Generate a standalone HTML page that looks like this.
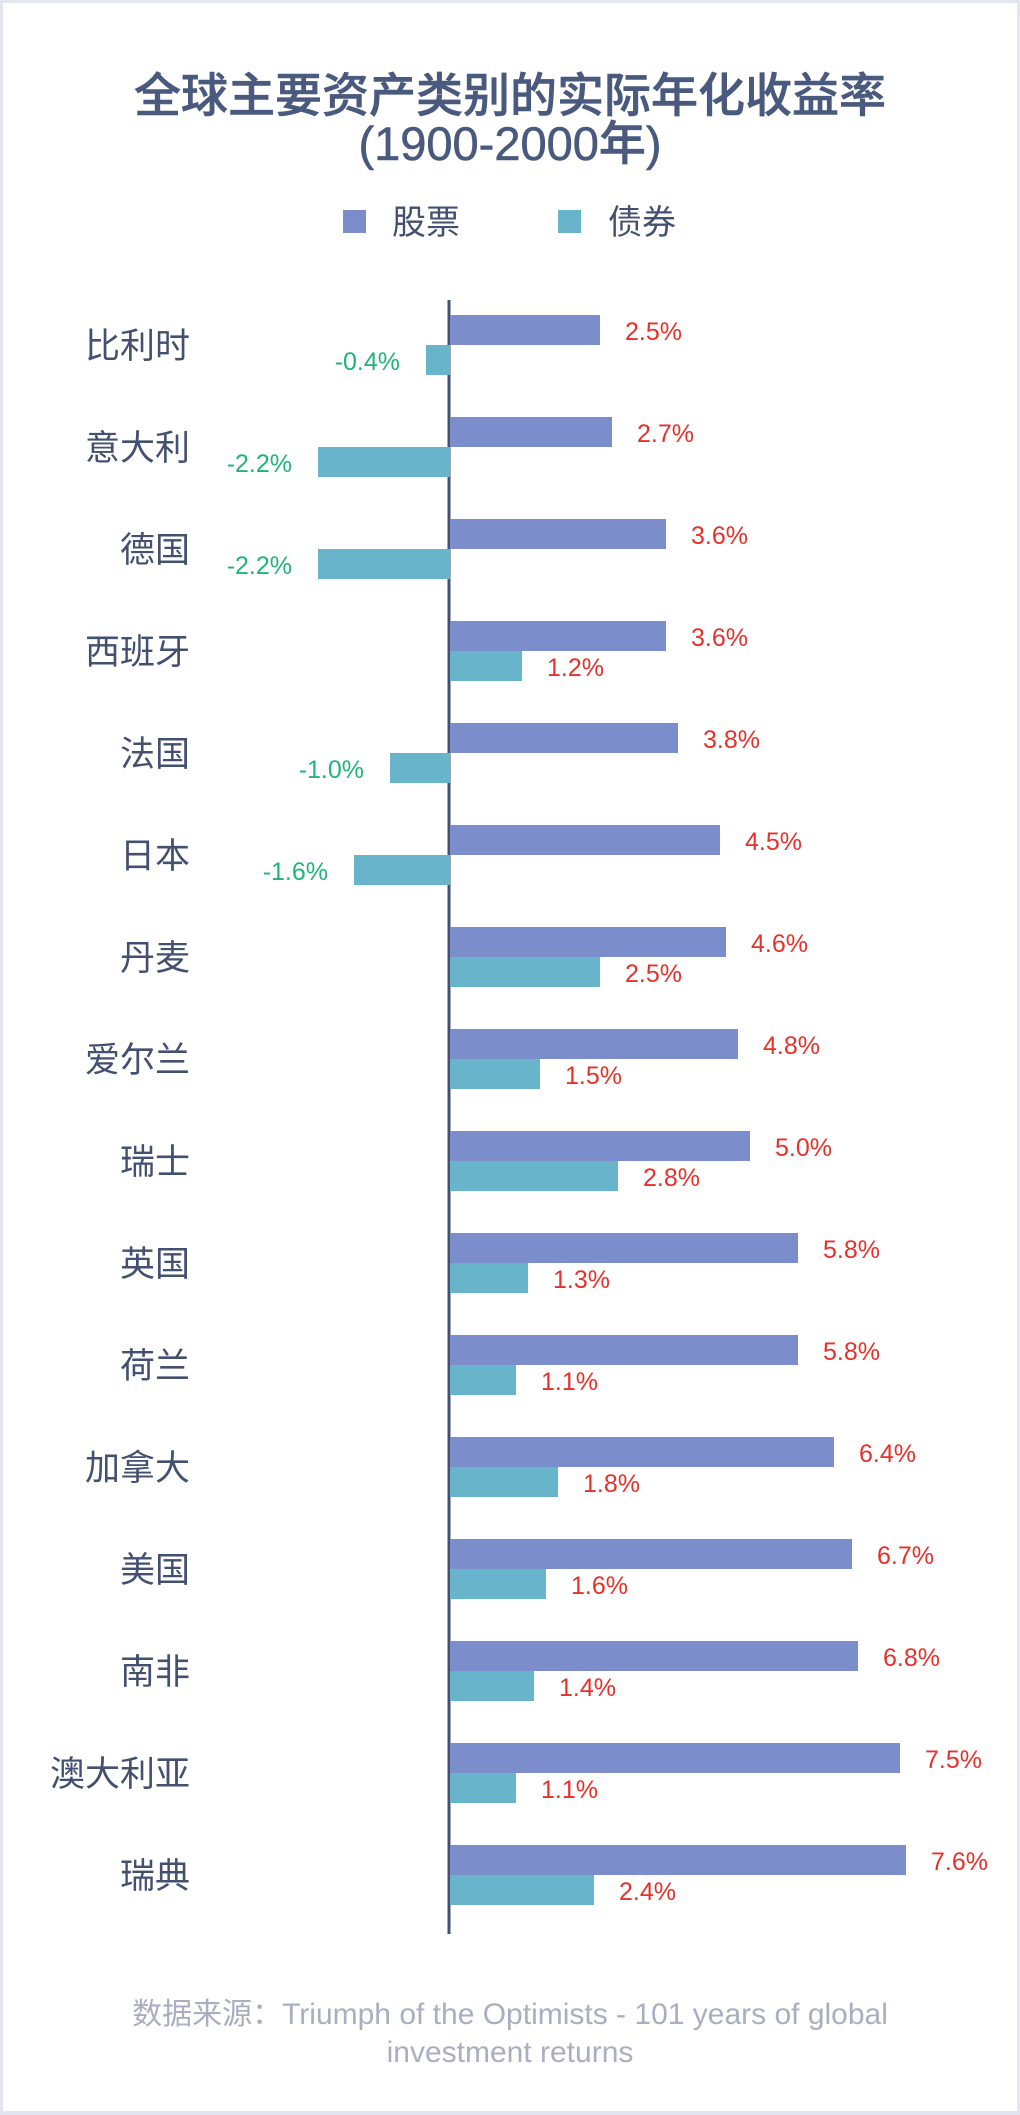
<!DOCTYPE html>
<html><head><meta charset="utf-8"><style>
html,body{margin:0;padding:0;background:#e3e6ee;}
svg{display:block;}
</style></head><body>
<svg width="1020" height="2115" xmlns="http://www.w3.org/2000/svg" font-family="'Liberation Sans','Noto Sans CJK SC',sans-serif">
<rect x="3" y="3" width="1014" height="2108" fill="#fff"/>
<text x="510" y="112" text-anchor="middle" font-size="47" font-weight="500" fill="#4a5a7e" stroke="#4a5a7e" stroke-width="0.6">全球主要资产类别的实际年化收益率</text>
<text x="510" y="160" text-anchor="middle" font-size="47" font-weight="500" fill="#4a5a7e" stroke="#4a5a7e" stroke-width="0.6">(1900-2000年)</text>
<rect x="343" y="210" width="23" height="23" fill="#7b8dcb"/>
<text x="392" y="234" font-size="34" fill="#44506f">股票</text>
<rect x="558" y="210" width="23" height="23" fill="#68b4cb"/>
<text x="608" y="234" font-size="34" fill="#44506f">债券</text>
<line x1="449" y1="300" x2="449" y2="1934" stroke="#44506f" stroke-width="3"/>
<text x="510" y="2024" text-anchor="middle" font-size="30" fill="#a9afc0">数据来源：Triumph of the Optimists - 101 years of global</text>
<text x="510" y="2062" text-anchor="middle" font-size="30" fill="#a9afc0">investment returns</text>
<g font-size="35" fill="#44506f" text-anchor="end">
<text x="190" y="358">比利时</text>
<text x="190" y="460">意大利</text>
<text x="190" y="562">德国</text>
<text x="190" y="664">西班牙</text>
<text x="190" y="766">法国</text>
<text x="190" y="868">日本</text>
<text x="190" y="970">丹麦</text>
<text x="190" y="1072">爱尔兰</text>
<text x="190" y="1174">瑞士</text>
<text x="190" y="1276">英国</text>
<text x="190" y="1378">荷兰</text>
<text x="190" y="1480">加拿大</text>
<text x="190" y="1582">美国</text>
<text x="190" y="1684">南非</text>
<text x="190" y="1786">澳大利亚</text>
<text x="190" y="1888">瑞典</text>
</g>
<g font-size="25">
<rect x="450" y="315" width="150" height="30" fill="#7b8dcb"/><text x="625" y="340" fill="#e8302a">2.5%</text>
<rect x="426" y="345" width="24" height="30" fill="#68b4cb"/><text x="400" y="370" fill="#1fb57a" text-anchor="end">-0.4%</text>
<rect x="450" y="417" width="162" height="30" fill="#7b8dcb"/><text x="637" y="442" fill="#e8302a">2.7%</text>
<rect x="318" y="447" width="132" height="30" fill="#68b4cb"/><text x="292" y="472" fill="#1fb57a" text-anchor="end">-2.2%</text>
<rect x="450" y="519" width="216" height="30" fill="#7b8dcb"/><text x="691" y="544" fill="#e8302a">3.6%</text>
<rect x="318" y="549" width="132" height="30" fill="#68b4cb"/><text x="292" y="574" fill="#1fb57a" text-anchor="end">-2.2%</text>
<rect x="450" y="621" width="216" height="30" fill="#7b8dcb"/><text x="691" y="646" fill="#e8302a">3.6%</text>
<rect x="450" y="651" width="72" height="30" fill="#68b4cb"/><text x="547" y="676" fill="#e8302a">1.2%</text>
<rect x="450" y="723" width="228" height="30" fill="#7b8dcb"/><text x="703" y="748" fill="#e8302a">3.8%</text>
<rect x="390" y="753" width="60" height="30" fill="#68b4cb"/><text x="364" y="778" fill="#1fb57a" text-anchor="end">-1.0%</text>
<rect x="450" y="825" width="270" height="30" fill="#7b8dcb"/><text x="745" y="850" fill="#e8302a">4.5%</text>
<rect x="354" y="855" width="96" height="30" fill="#68b4cb"/><text x="328" y="880" fill="#1fb57a" text-anchor="end">-1.6%</text>
<rect x="450" y="927" width="276" height="30" fill="#7b8dcb"/><text x="751" y="952" fill="#e8302a">4.6%</text>
<rect x="450" y="957" width="150" height="30" fill="#68b4cb"/><text x="625" y="982" fill="#e8302a">2.5%</text>
<rect x="450" y="1029" width="288" height="30" fill="#7b8dcb"/><text x="763" y="1054" fill="#e8302a">4.8%</text>
<rect x="450" y="1059" width="90" height="30" fill="#68b4cb"/><text x="565" y="1084" fill="#e8302a">1.5%</text>
<rect x="450" y="1131" width="300" height="30" fill="#7b8dcb"/><text x="775" y="1156" fill="#e8302a">5.0%</text>
<rect x="450" y="1161" width="168" height="30" fill="#68b4cb"/><text x="643" y="1186" fill="#e8302a">2.8%</text>
<rect x="450" y="1233" width="348" height="30" fill="#7b8dcb"/><text x="823" y="1258" fill="#e8302a">5.8%</text>
<rect x="450" y="1263" width="78" height="30" fill="#68b4cb"/><text x="553" y="1288" fill="#e8302a">1.3%</text>
<rect x="450" y="1335" width="348" height="30" fill="#7b8dcb"/><text x="823" y="1360" fill="#e8302a">5.8%</text>
<rect x="450" y="1365" width="66" height="30" fill="#68b4cb"/><text x="541" y="1390" fill="#e8302a">1.1%</text>
<rect x="450" y="1437" width="384" height="30" fill="#7b8dcb"/><text x="859" y="1462" fill="#e8302a">6.4%</text>
<rect x="450" y="1467" width="108" height="30" fill="#68b4cb"/><text x="583" y="1492" fill="#e8302a">1.8%</text>
<rect x="450" y="1539" width="402" height="30" fill="#7b8dcb"/><text x="877" y="1564" fill="#e8302a">6.7%</text>
<rect x="450" y="1569" width="96" height="30" fill="#68b4cb"/><text x="571" y="1594" fill="#e8302a">1.6%</text>
<rect x="450" y="1641" width="408" height="30" fill="#7b8dcb"/><text x="883" y="1666" fill="#e8302a">6.8%</text>
<rect x="450" y="1671" width="84" height="30" fill="#68b4cb"/><text x="559" y="1696" fill="#e8302a">1.4%</text>
<rect x="450" y="1743" width="450" height="30" fill="#7b8dcb"/><text x="925" y="1768" fill="#e8302a">7.5%</text>
<rect x="450" y="1773" width="66" height="30" fill="#68b4cb"/><text x="541" y="1798" fill="#e8302a">1.1%</text>
<rect x="450" y="1845" width="456" height="30" fill="#7b8dcb"/><text x="931" y="1870" fill="#e8302a">7.6%</text>
<rect x="450" y="1875" width="144" height="30" fill="#68b4cb"/><text x="619" y="1900" fill="#e8302a">2.4%</text>
</g>
</svg>
</body></html>
